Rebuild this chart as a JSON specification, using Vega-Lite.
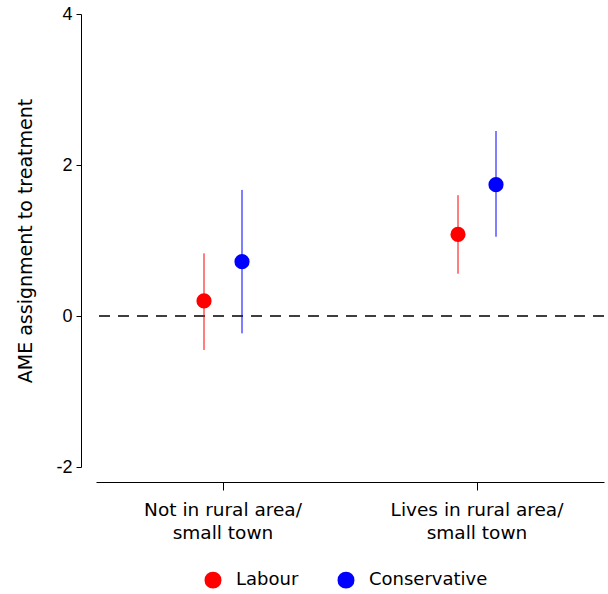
{
  "$schema": "https://vega.github.io/schema/vega-lite/v6.json",
  "width": 508,
  "height": 453,
  "autosize": {"type": "none"},
  "padding": {"left": 96, "top": 14, "right": 4, "bottom": 127},
  "config": {
    "view": {"stroke": null},
    "font": "DejaVu Sans",
    "axisY": {
      "offset": 15, "tickSize": 5, "labelPadding": 4, "grid": false,
      "labelFont": "Liberation Sans", "labelFontSize": 18, "labelColor": "#000",
      "domainColor": "#000", "tickColor": "#000",
      "titleFont": "DejaVu Sans", "titleFontSize": 19, "titleFontWeight": "normal",
      "titleColor": "#000", "titlePadding": 20
    },
    "axisX": {
      "offset": 15, "tickSize": 8, "labelPadding": 10, "labelAngle": 0, "grid": false,
      "labelFontSize": 18.5, "labelColor": "#000", "labelLineHeight": 23,
      "domainColor": "#000", "tickColor": "#000"
    },
    "legend": {
      "orient": "none", "legendX": 108, "legendY": 557, "direction": "horizontal", "title": null,
      "labelFontSize": 18, "labelColor": "#000", "symbolSize": 240,
      "symbolType": "circle", "columnPadding": 36, "labelOffset": 14, "padding": 0
    }
  },
  "data": {
    "values": [
      {"area": "Not in rural area/\nsmall town", "party": "Labour", "est": 0.20, "lo": -0.45, "hi": 0.83},
      {"area": "Not in rural area/\nsmall town", "party": "Conservative", "est": 0.72, "lo": -0.23, "hi": 1.67},
      {"area": "Lives in rural area/\nsmall town", "party": "Labour", "est": 1.08, "lo": 0.56, "hi": 1.60},
      {"area": "Lives in rural area/\nsmall town", "party": "Conservative", "est": 1.74, "lo": 1.05, "hi": 2.45}
    ]
  },
  "layer": [
    {
      "mark": {"type": "rule", "strokeDash": [11, 8], "color": "#333", "strokeWidth": 1},
      "encoding": {
        "y": {"datum": 0, "type": "quantitative", "title": "AME assignment to treatment",
              "scale": {"domain": [-2, 4], "nice": false, "zero": false},
              "axis": {"values": [-2, 0, 2, 4], "labelExpr": "'' + datum.value"}}
      }
    },
    {
      "mark": {"type": "rule", "strokeWidth": 1},
      "encoding": {
        "x": {"field": "area", "type": "nominal", "sort": null, "title": null,
              "scale": {"type": "band", "paddingInner": 0, "paddingOuter": 0},
              "axis": {"labelExpr": "split(datum.label, '\\n')"}},
        "xOffset": {"field": "party", "type": "nominal",
                    "scale": {"type": "point", "padding": 0, "range": [108, 146], "domain": ["Labour", "Conservative"]}},
        "y": {"field": "lo", "type": "quantitative", "title": "AME assignment to treatment",
              "scale": {"domain": [-2, 4], "nice": false, "zero": false},
              "axis": {"values": [-2, 0, 2, 4], "labelExpr": "'' + datum.value"}},
        "y2": {"field": "hi"},
        "color": {"field": "party", "type": "nominal",
                  "scale": {"domain": ["Labour", "Conservative"], "range": ["#ff0000", "#0000ff"]},
                  "legend": {"title": null}}
      }
    },
    {
      "mark": {"type": "circle", "size": 230, "opacity": 1},
      "encoding": {
        "x": {"field": "area", "type": "nominal", "sort": null, "title": null,
              "scale": {"type": "band", "paddingInner": 0, "paddingOuter": 0},
              "axis": {"labelExpr": "split(datum.label, '\\n')"}},
        "xOffset": {"field": "party", "type": "nominal",
                    "scale": {"type": "point", "padding": 0, "range": [108, 146], "domain": ["Labour", "Conservative"]}},
        "y": {"field": "est", "type": "quantitative", "title": "AME assignment to treatment",
              "scale": {"domain": [-2, 4], "nice": false, "zero": false},
              "axis": {"values": [-2, 0, 2, 4], "labelExpr": "'' + datum.value"}},
        "color": {"field": "party", "type": "nominal",
                  "scale": {"domain": ["Labour", "Conservative"], "range": ["#ff0000", "#0000ff"]},
                  "legend": {"title": null}}
      }
    }
  ]
}
